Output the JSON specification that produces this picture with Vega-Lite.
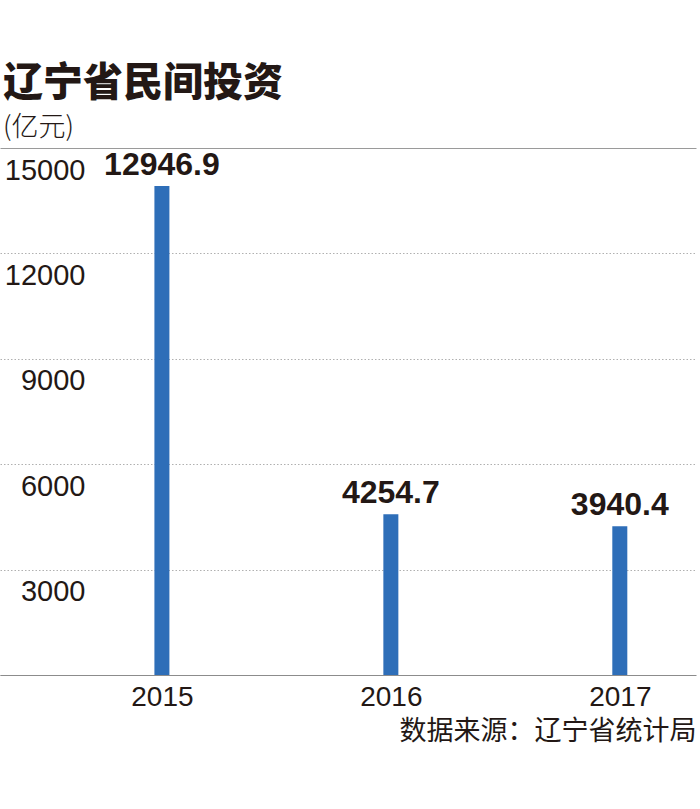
{
  "$schema": "https://vega.github.io/schema/vega-lite/v6.json",
  "autosize": {"type": "none"},
  "width": 696,
  "height": 527,
  "padding": {"top": 148, "left": 0, "right": 4, "bottom": 134},
  "background": "white",
  "title": {
    "text": "辽宁省民间投资",
    "subtitle": "(亿元)",
    "anchor": "start",
    "frame": "group",
    "dx": 3,
    "offset": 7,
    "font": "Noto Sans CJK SC",
    "fontSize": 40,
    "fontWeight": 900,
    "color": "#231815",
    "subtitleFont": "Noto Sans CJK SC",
    "subtitleFontSize": 27,
    "subtitleFontWeight": 300,
    "subtitleColor": "#231815",
    "subtitlePadding": 11
  },
  "data": {
    "values": [
      {"year": "2015", "value": 12946.9},
      {"year": "2016", "value": 4254.7},
      {"year": "2017", "value": 3940.4}
    ]
  },
  "encoding": {
    "x": {
      "field": "year",
      "type": "nominal",
      "sort": null,
      "scale": {"type": "point", "padding": 0.52, "align": 0.68},
      "axis": {
        "title": "数据来源：辽宁省统计局",
        "titleFont": "Noto Sans CJK SC",
        "titleFontSize": 27,
        "titleFontWeight": 400,
        "titleColor": "#231815",
        "titleAnchor": "end",
        "titleAlign": "right",
        "titlePadding": 7,
        "labelFont": "Liberation Sans",
        "labelFontSize": 28,
        "labelColor": "#231815",
        "labelAngle": 0,
        "labelPadding": 8,
        "ticks": false,
        "tickSize": 0,
        "domainColor": "#8c8c8c",
        "domainWidth": 1.2,
        "grid": false
      }
    },
    "y": {
      "field": "value",
      "type": "quantitative",
      "scale": {"domain": [0, 13950], "nice": false, "zero": true},
      "axis": {
        "title": null,
        "values": [0, 2790, 5580, 8370, 11160, 13950],
        "labelExpr": "datum.value == 0 ? '' : format(round(datum.value / 2790) * 3000, 'd')",
        "labelFont": "Liberation Sans",
        "labelFontSize": 29,
        "labelColor": "#231815",
        "labelAlign": "right",
        "labelBaseline": "alphabetic",
        "labelPadding": -85,
        "labelOffset": 31,
        "labelFlush": false,
        "labelOverlap": false,
        "labelBound": false,
        "ticks": false,
        "tickSize": 0,
        "domain": false,
        "grid": true,
        "gridColor": {"condition": {"test": "datum.value >= 13900", "value": "#9a9a9a"}, "value": "#b0b0b0"},
        "gridDash": {"condition": {"test": "datum.value >= 13900", "value": []}, "value": [1.5, 2]},
        "gridWidth": 1
      }
    }
  },
  "layer": [
    {
      "mark": {"type": "bar", "size": 15, "color": "#2e6eb8"}
    },
    {
      "mark": {
        "type": "text",
        "font": "Liberation Sans",
        "fontWeight": "bold",
        "fontSize": 32,
        "color": "#231815",
        "baseline": "alphabetic",
        "align": "center",
        "dy": -11
      },
      "encoding": {
        "text": {"field": "value", "type": "quantitative", "format": ".1f"}
      }
    }
  ],
  "config": {"view": {"stroke": null}}
}
